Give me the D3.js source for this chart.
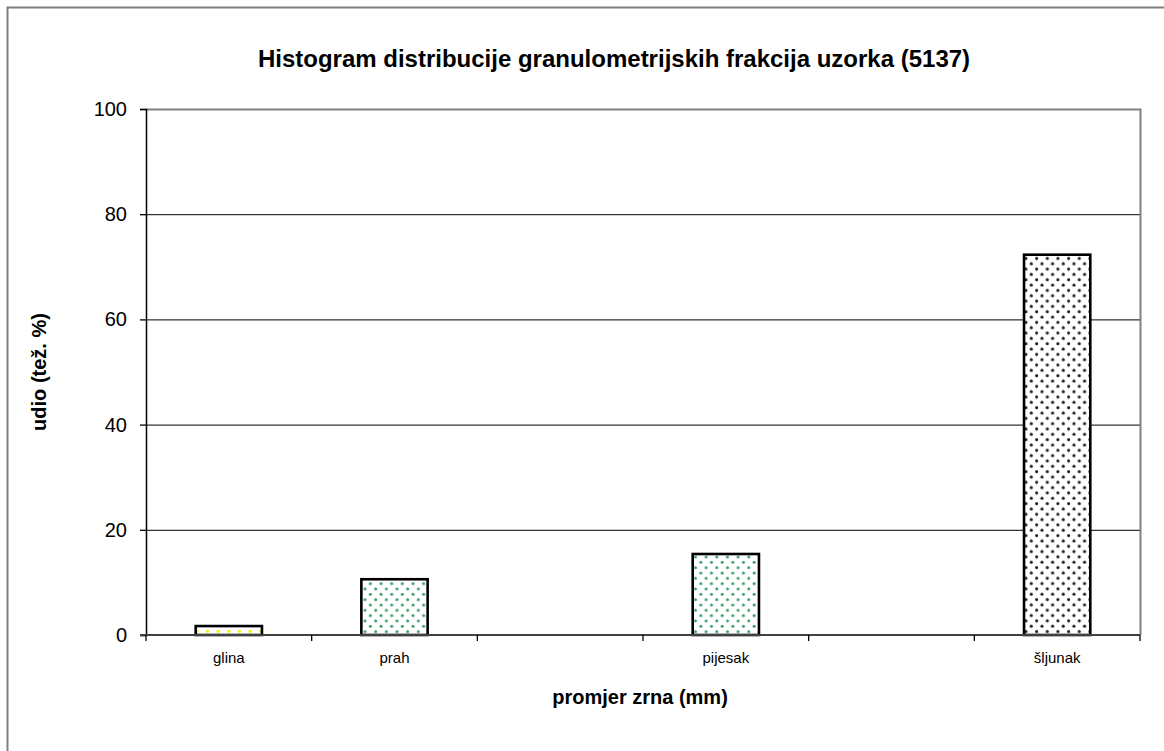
<!DOCTYPE html>
<html><head><meta charset="utf-8">
<script src="https://cdn.jsdelivr.net/npm/d3@7"></script>
<style>body{margin:0;background:#fff}svg{display:block;font-family:"Liberation Sans",Arial,sans-serif}</style>
</head><body>
<svg id="c" width="1164" height="751"></svg>
<script>
const categories = ["glina","prah","","pijesak","","šljunak"];
const values = [1.7, 10.6, null, 15.4, null, 72.3];
const patterns = ["pYellow","pGreen",null,"pGreen",null,"pBlack"];
const yTicks = [0,20,40,60,80,100];
const title = "Histogram distribucije granulometrijskih frakcija uzorka (5137)";
const yTitle = "udio (tež. %)";
const xTitle = "promjer zrna (mm)";

const svg = d3.select("#c");
const m = {l:146, t:109, r:1140, b:635};

const defs = svg.append("defs");
function pat(id, color, r){
  const p = defs.append("pattern").attr("id",id).attr("patternUnits","userSpaceOnUse")
    .attr("width",10.66).attr("height",10.66);
  p.append("rect").attr("width",10.66).attr("height",10.66).attr("fill","#fff");
  p.append("circle").attr("cx",2.6).attr("cy",2.6).attr("r",r).attr("fill",color);
  p.append("circle").attr("cx",7.93).attr("cy",7.93).attr("r",r).attr("fill",color);
}
pat("pGreen","#3a9a68",1.5);
pat("pBlack","#222",1.55);
const py = defs.append("pattern").attr("id","pYellow").attr("patternUnits","userSpaceOnUse")
  .attr("width",10.66).attr("height",10.66).attr("x",0).attr("y",630);
py.append("rect").attr("width",10.66).attr("height",10.66).attr("fill","#fff");
py.append("circle").attr("cx",5).attr("cy",1.3).attr("r",1.6).attr("fill","#f2ee00");

svg.append("rect").attr("x",7.5).attr("y",7.5).attr("width",1200).attr("height",800)
  .attr("fill","none").attr("stroke","#7f7f7f").attr("stroke-width",2);

const x = d3.scaleBand().domain(d3.range(categories.length)).range([m.l,m.r]).paddingInner(0).paddingOuter(0);
const y = d3.scaleLinear().domain([0,100]).range([m.b,m.t]);

svg.append("g").selectAll("line").data(yTicks.filter(d=>d>0 && d<100)).join("line")
  .attr("x1",m.l).attr("x2",m.r).attr("y1",d=>y(d)+0.5).attr("y2",d=>y(d)+0.5)
  .attr("stroke","#000").attr("stroke-width",1);
svg.append("path").attr("d",`M${m.l},${m.t+0.5}H${m.r+0.5}V${m.b}`).attr("fill","none")
  .attr("stroke","#808080").attr("stroke-width",2);

const bw = x.bandwidth()/2.5;
svg.append("g").selectAll("rect").data(values.map((v,i)=>({v,i})).filter(d=>d.v!=null)).join("rect")
  .attr("x",d=>x(d.i)+x.bandwidth()/2-bw/2)
  .attr("width",bw)
  .attr("y",d=>y(d.v))
  .attr("height",d=>y(0)-y(d.v))
  .attr("fill",d=>`url(#${patterns[d.i]})`)
  .attr("stroke","#000").attr("stroke-width",2.6);

const ya = svg.append("g").attr("transform",`translate(${m.l},0)`)
  .call(d3.axisLeft(y).tickValues(yTicks).tickSize(6).tickPadding(13).tickFormat(d3.format("d")));
ya.select(".domain").attr("stroke","#000").attr("stroke-width",1.5);
ya.selectAll(".tick line").attr("stroke","#000").attr("stroke-width",1.3);
ya.selectAll("text").attr("font-size",20).attr("fill","#000").attr("font-family","Liberation Sans, Arial");

const xa = svg.append("g").attr("transform",`translate(0,${m.b})`);
xa.append("line").attr("x1",m.l-6).attr("x2",m.r).attr("y1",0).attr("y2",0).attr("stroke","#404040").attr("stroke-width",2);
xa.selectAll("line.t").data(d3.range(categories.length+1)).join("line").attr("class","t")
  .attr("x1",d=>m.l + d*x.step()).attr("x2",d=>m.l + d*x.step()).attr("y1",0).attr("y2",6)
  .attr("stroke","#000").attr("stroke-width",1.3);
xa.selectAll("text").data(categories.map((c,i)=>({c,i}))).join("text")
  .attr("x",d=>x(d.i)+x.bandwidth()/2).attr("y",28).attr("text-anchor","middle")
  .attr("font-size",15).attr("fill","#000").text(d=>d.c);

svg.append("text").attr("x",614).attr("y",67).attr("text-anchor","middle")
  .attr("font-size",24).attr("font-weight","bold").text(title);
svg.append("text").attr("transform",`translate(46,${(m.t+m.b)/2}) rotate(-90)`).attr("text-anchor","middle")
  .attr("font-size",20).attr("font-weight","bold").text(yTitle);
svg.append("text").attr("x",(m.l+m.r)/2 - 3).attr("y",704).attr("text-anchor","middle")
  .attr("font-size",20).attr("font-weight","bold").text(xTitle);
</script>
</body></html>
